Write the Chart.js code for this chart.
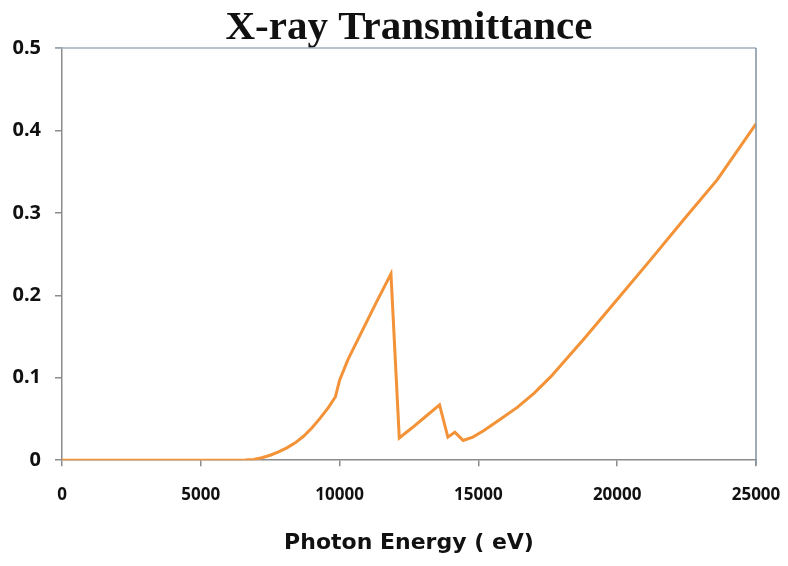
<!DOCTYPE html>
<html>
<head>
<meta charset="utf-8">
<script src="https://cdn.jsdelivr.net/npm/chart.js@4/dist/chart.umd.min.js"></script>
<style>
  html, body { margin: 0; padding: 0; background: #fff; }
  #wrap { width: 788px; height: 566px; }
</style>
</head>
<body>
<div id="wrap"><canvas id="chart"></canvas></div>
<script>
const titleText = "X-ray Transmittance";
const xTitle = "Photon Energy ( eV)";

// photon energy (eV) and transmittance
const energy = [0, 2000, 4000, 6000, 6600, 6900, 7200, 7500, 7800, 8100, 8400, 8700, 9000, 9300, 9600, 9850,
  10000, 10300, 10800, 11300, 11850,
  12150, 12600, 13100, 13600, 13900, 14150, 14450,
  14800, 15200, 15800, 16400, 17000, 17600, 18200, 18800, 19400, 20000, 21200, 22400, 23600, 25000];
const transmittance = [0, 0, 0, 0, 0.0003, 0.001, 0.003, 0.006, 0.010, 0.015, 0.021, 0.029, 0.039, 0.051, 0.064, 0.077,
  0.097, 0.122, 0.156, 0.19, 0.226,
  0.027, 0.039, 0.053, 0.067, 0.028, 0.034, 0.024,
  0.028, 0.036, 0.050, 0.064, 0.081, 0.101, 0.124, 0.147, 0.171, 0.195, 0.243, 0.292, 0.340, 0.408];

const xTicks = [0, 5000, 10000, 15000, 20000, 25000];
const yTicks = [0, 0.1, 0.2, 0.3, 0.4, 0.5];

const lineColor = "#f39237";
const axisColor = "#8c8c8c";

// top and right edges of the plot box
const boxBorder = {
  id: "boxBorder",
  afterDraw(chart) {
    const { ctx, chartArea: a } = chart;
    ctx.save();
    ctx.lineWidth = 1.5;
    ctx.strokeStyle = "#9fb0bf";
    ctx.beginPath();
    ctx.moveTo(a.left - 7, a.top);
    ctx.lineTo(a.right, a.top);
    ctx.stroke();
    ctx.strokeStyle = "#7f91a1";
    ctx.beginPath();
    ctx.moveTo(a.right, a.top);
    ctx.lineTo(a.right, a.bottom + 5);
    ctx.stroke();
    ctx.restore();
  }
};

new Chart(document.getElementById("chart"), {
  type: "line",
  data: {
    datasets: [{
      data: energy.map((e, i) => ({ x: e, y: transmittance[i] })),
      borderColor: lineColor,
      borderWidth: 3,
      pointRadius: 0,
      tension: 0,
      fill: false
    }]
  },
  options: {
    responsive: true,
    maintainAspectRatio: false,
    animation: false,
    layout: { padding: { left: 6, right: 32, top: 0, bottom: 10 } },
    plugins: {
      legend: { display: false },
      tooltip: { enabled: false },
      title: {
        display: true,
        fullSize: false,
        text: titleText,
        color: "#111",
        font: { family: "'Liberation Serif', 'Times New Roman', serif", size: 41, weight: "bold", lineHeight: 0.95 },
        padding: { top: 9, bottom: 0 }
      }
    },
    scales: {
      x: {
        type: "linear",
        min: 0,
        max: 25000,
        afterBuildTicks: s => { s.ticks = xTicks.map(v => ({ value: v })); },
        afterFit: s => { s.paddingLeft = 0; s.paddingRight = 0; },
        grid: { display: true, drawOnChartArea: false, color: axisColor, tickLength: 6, lineWidth: 1.5 },
        border: { display: true, color: axisColor, width: 1.5 },
        ticks: {
          color: "#111",
          font: { family: "'Noto Sans', sans-serif", size: 17, weight: "bold" },
          padding: 19,
          maxRotation: 0,
          callback: v => String(v)
        },
        title: {
          display: true,
          text: xTitle,
          color: "#111",
          font: { family: "'DejaVu Sans', sans-serif", size: 22, weight: "bold" },
          padding: { top: 5, bottom: 0 }
        }
      },
      y: {
        min: 0,
        max: 0.5,
        afterBuildTicks: s => { s.ticks = yTicks.map(v => ({ value: v })); },
        afterFit: s => { s.width = 56; s.paddingTop = 0; s.paddingBottom = 0; },
        grid: { display: true, drawOnChartArea: false, color: axisColor, tickLength: 7, lineWidth: 1.5 },
        border: { display: true, color: axisColor, width: 1.5 },
        ticks: {
          color: "#111",
          font: { family: "'Noto Sans', sans-serif", size: 20, weight: "bold" },
          padding: 14,
          callback: v => String(v)
        }
      }
    }
  },
  plugins: [boxBorder]
});
</script>
</body>
</html>
